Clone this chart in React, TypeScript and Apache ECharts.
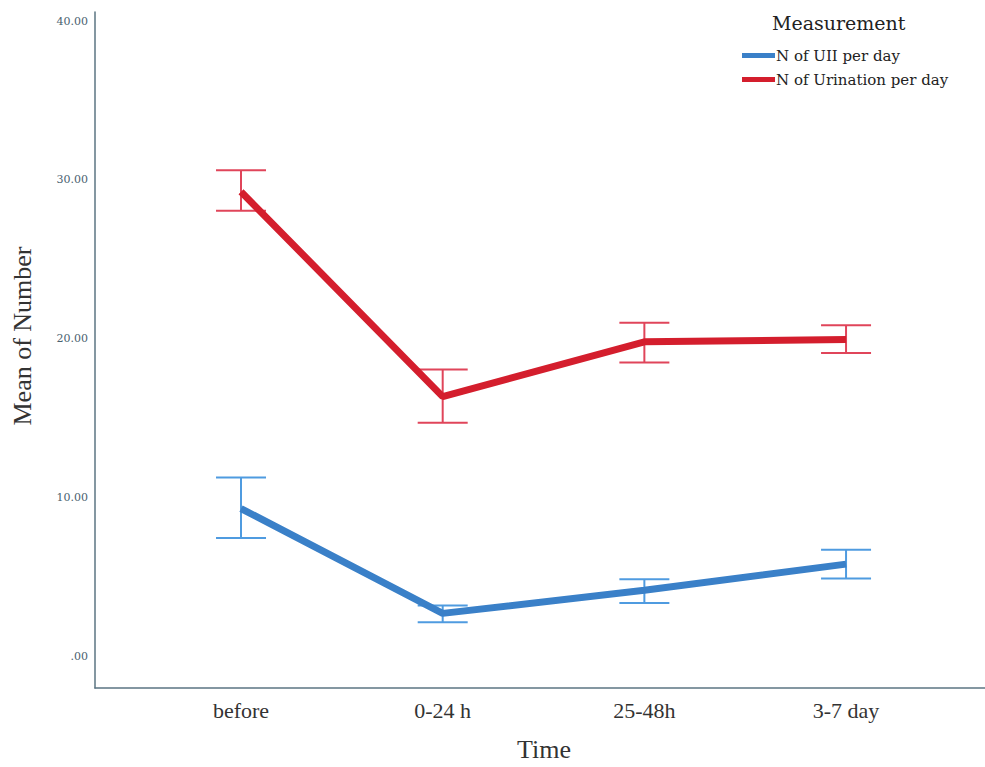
import React, { useEffect, useRef } from "react";
import * as echarts from "echarts";

const categories = ["before", "0-24 h", "25-48h", "3-7 day"];
const yTicks = [0, 10, 20, 30, 40];

const uiiMean = [9.3, 2.7, 4.15, 5.8];
const uiiLow = [7.45, 2.14, 3.35, 4.9];
const uiiHigh = [11.25, 3.2, 4.85, 6.7];

const uriMean = [29.25, 16.35, 19.8, 19.95];
const uriLow = [28.05, 14.7, 18.5, 19.1];
const uriHigh = [30.6, 18.05, 21.0, 20.85];

const FONT = "'Liberation Serif', 'DejaVu Serif', serif";
const WIDE = "'DejaVu Serif', serif";

function errorSeries(name: string, low: number[], high: number[], color: string) {
  return {
    type: "custom",
    name,
    z: 1,
    silent: true,
    data: low.map((l, i) => [i, l, high[i]]),
    renderItem: (params: any, api: any) => {
      const x = api.value(0);
      const lo = api.coord([x, api.value(1)]);
      const hi = api.coord([x, api.value(2)]);
      const hw = 25;
      const style = { stroke: color, lineWidth: 2 };
      return {
        type: "group",
        children: [
          { type: "line", shape: { x1: lo[0], y1: lo[1], x2: hi[0], y2: hi[1] }, style },
          { type: "line", shape: { x1: lo[0] - hw, y1: lo[1], x2: lo[0] + hw, y2: lo[1] }, style },
          { type: "line", shape: { x1: hi[0] - hw, y1: hi[1], x2: hi[0] + hw, y2: hi[1] }, style },
        ],
      };
    },
  };
}

export default function App() {
  const ref = useRef<HTMLDivElement>(null);
  useEffect(() => {
    if (!ref.current) return;
    const chart = echarts.init(ref.current, undefined, { renderer: "svg" });
    const blue = "#3a80c8";
    const red = "#d41e2d";
    chart.setOption({
      animation: false,
      backgroundColor: "#ffffff",
      title: {
        text: "Measurement",
        left: 767,
        top: 8,
        textStyle: { fontFamily: WIDE, fontSize: 19, fontWeight: "normal", color: "#222" },
      },
      legend: {
        orient: "vertical",
        left: 737,
        top: 43,
        icon: "rect",
        itemWidth: 33,
        itemHeight: 5,
        itemGap: 9,
        data: ["N of UII per day", "N of Urination per day"],
        textStyle: { fontFamily: WIDE, fontSize: 15, color: "#222", padding: [0, 0, 0, -4] },
      },
      grid: { left: 95, right: 0, top: 12, bottom: 79, containLabel: false, outerBoundsMode: "none" },
      xAxis: {
        type: "value",
        min: -0.724,
        max: 3.689,
        name: "Time",
        nameLocation: "middle",
        nameGap: 48,
        nameTextStyle: { fontFamily: FONT, fontSize: 26, color: "#333", padding: [0, 0, 0, 8] },
        axisLine: { show: true, onZero: false, lineStyle: { color: "#5b7482", width: 1.5 } },
        axisTick: { show: false },
        splitLine: { show: false },
        axisLabel: {
          customValues: [0, 1, 2, 3],
          formatter: (v: number) => categories[Math.round(v)] ?? "",
          margin: 11,
          fontFamily: FONT,
          fontSize: 22,
          color: "#333",
        },
      },
      yAxis: {
        type: "value",
        min: -2,
        max: 40.57,
        name: "Mean of Number",
        nameLocation: "middle",
        nameGap: 60,
        nameRotate: 90,
        nameTextStyle: { fontFamily: FONT, fontSize: 26, color: "#333", padding: [0, 0, 0, 28] },
        axisLine: { show: true, onZero: false, lineStyle: { color: "#5b7482", width: 1.5 } },
        axisTick: { show: false },
        splitLine: { show: false },
        axisLabel: {
          customValues: yTicks,
          formatter: (v: number) => (v === 0 ? ".00" : v.toFixed(2)),
          margin: 7,
          fontFamily: WIDE,
          fontSize: 11,
          color: "#4a6270",
        },
      },
      series: [
        errorSeries("uii-err", uiiLow, uiiHigh, "#4f9be0"),
        errorSeries("uri-err", uriLow, uriHigh, "#e0455a"),
        {
          type: "line",
          name: "N of UII per day",
          z: 3,
          data: uiiMean.map((v, i) => [i, v]),
          symbol: "none",
          lineStyle: { color: blue, width: 7 },
          itemStyle: { color: blue },
        },
        {
          type: "line",
          name: "N of Urination per day",
          z: 3,
          data: uriMean.map((v, i) => [i, v]),
          symbol: "none",
          lineStyle: { color: red, width: 7 },
          itemStyle: { color: red },
        },
      ],
    });
    return () => chart.dispose();
  }, []);
  return (
    <div
      ref={ref}
      style={{ position: "fixed", left: 0, top: 0, width: 985, height: 767 }}
    />
  );
}
